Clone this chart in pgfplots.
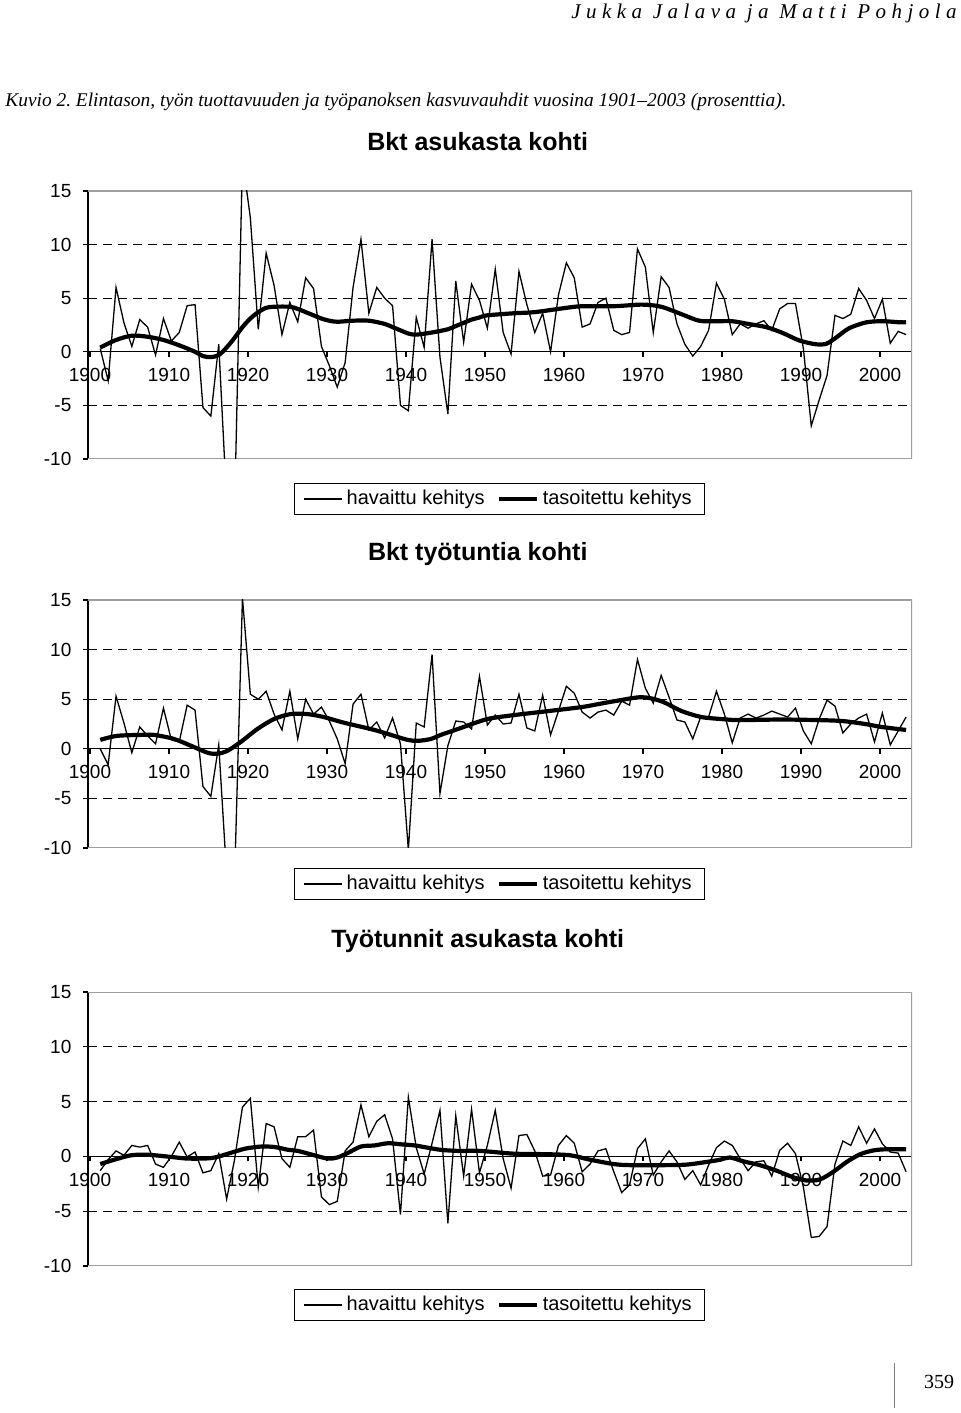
\documentclass[border=0pt]{standalone}
\usepackage{fontspec}
\setmainfont{Liberation Sans}
\newfontfamily\serifit[LetterSpace=26]{Liberation Serif}
\newfontfamily\serifcap{Liberation Serif}
\usepackage{pgfplots}
\pgfplotsset{compat=1.18}
\usepackage{pgfplotstable}
\frenchspacing

% observed growth rates: a = Bkt asukasta kohti, b = Bkt tyotuntia kohti, c = Tyotunnit asukasta kohti
\pgfplotstableread{
year a b c
1901 0.3 0.0 -1.3
1902 -2.7 -1.6 -0.3
1903 6.0 5.3 0.5
1904 2.7 2.6 0.1
1905 0.5 -0.4 1.0
1906 3.0 2.2 0.85
1907 2.3 1.3 1.0
1908 -0.3 0.5 -0.7
1909 3.1 4.1 -1.0
1910 1.0 0.9 0.0
1911 1.8 0.7 1.3
1912 4.3 4.4 -0.05
1913 4.4 3.9 0.4
1914 -5.2 -3.8 -1.5
1915 -6.0 -4.8 -1.3
1916 0.7 0.4 0.25
1917 -14.0 -12.7 -3.9
1918 -15.0 -13.3 -0.3
1919 18.0 15.2 4.5
1920 12.5 5.5 5.3
1921 2.1 5.0 -2.8
1922 9.2 5.8 3.0
1923 6.2 3.5 2.7
1924 1.6 1.9 -0.2
1925 4.6 5.8 -1.0
1926 2.8 1.0 1.8
1927 6.9 5.0 1.8
1928 5.9 3.5 2.4
1929 0.5 4.2 -3.7
1930 -1.3 2.8 -4.4
1931 -3.3 1.0 -4.1
1932 -1.0 -1.5 0.5
1933 6.0 4.5 1.3
1934 10.5 5.5 4.7
1935 3.6 1.9 1.8
1936 6.0 2.7 3.2
1937 5.0 1.1 3.8
1938 4.3 3.1 1.6
1939 -5.0 0.5 -5.3
1940 -5.5 -10.2 5.4
1941 3.2 2.6 0.8
1942 0.4 2.2 -1.6
1943 10.5 9.5 1.2
1944 -0.5 -4.5 4.2
1945 -5.8 0.3 -6.1
1946 6.6 2.8 3.7
1947 0.9 2.7 -1.8
1948 6.3 2.0 4.3
1949 4.8 7.3 -1.5
1950 2.2 2.4 1.0
1951 7.7 3.4 4.2
1952 1.8 2.5 -0.2
1953 -0.2 2.6 -2.9
1954 7.5 5.5 1.9
1955 4.4 2.1 2.0
1956 1.8 1.8 0.5
1957 3.6 5.4 -1.8
1958 0.0 1.4 -1.7
1959 5.3 3.8 1.0
1960 8.3 6.3 1.9
1961 6.9 5.6 1.2
1962 2.3 3.7 -1.4
1963 2.6 3.1 -0.7
1964 4.6 3.7 0.5
1965 5.0 3.9 0.7
1966 2.0 3.4 -1.4
1967 1.6 4.8 -3.3
1968 1.8 4.4 -2.6
1969 9.6 9.0 0.7
1970 7.9 6.1 1.6
1971 1.8 4.6 -1.7
1972 7.0 7.4 -0.5
1973 6.0 5.2 0.5
1974 2.6 2.9 -0.5
1975 0.7 2.7 -2.1
1976 -0.4 1.0 -1.3
1977 0.5 3.2 -2.6
1978 2.0 3.2 -0.8
1979 6.4 5.8 0.8
1980 4.9 3.5 1.4
1981 1.6 0.6 1.0
1982 2.6 3.1 -0.2
1983 2.2 3.5 -1.3
1984 2.6 3.1 -0.5
1985 2.9 3.4 -0.4
1986 2.0 3.8 -1.8
1987 4.0 3.5 0.55
1988 4.5 3.2 1.2
1989 4.5 4.1 0.25
1990 0.3 1.8 -2.8
1991 -6.9 0.5 -7.4
1992 -4.5 3.0 -7.3
1993 -2.2 4.9 -6.4
1994 3.4 4.3 -0.7
1995 3.1 1.6 1.4
1996 3.5 2.5 1.0
1997 5.9 3.1 2.7
1998 4.8 3.5 1.2
1999 3.1 0.7 2.5
2000 4.9 3.6 1.15
2001 0.8 0.4 0.4
2002 1.9 1.8 0.3
2003 1.6 3.2 -1.4
}\obs

% smoothed trends
\pgfplotstableread{
year v
1901 0.4
1903 1.1
1905 1.5
1907 1.4
1909 1.1
1911 0.6
1913 0.0
1914 -0.4
1915 -0.5
1916 -0.3
1917 0.4
1918 1.3
1919 2.3
1920 3.1
1921 3.7
1922 4.1
1923 4.2
1925 4.2
1926 4.0
1927 3.7
1928 3.4
1929 3.1
1930 2.9
1931 2.8
1933 2.9
1935 2.9
1937 2.6
1938 2.3
1939 2.0
1940 1.7
1941 1.6
1943 1.8
1945 2.1
1946 2.4
1947 2.7
1948 3.0
1949 3.2
1950 3.4
1953.5 3.6
1956 3.7
1960 4.1
1962 4.25
1966 4.25
1969.6 4.4
1972 4.2
1974.6 3.5
1976.8 2.9
1979 2.85
1981 2.85
1983 2.6
1985.3 2.3
1987.4 1.75
1989.5 1.05
1991.6 0.7
1992.9 0.75
1994.1 1.3
1995.8 2.2
1998 2.75
2000.1 2.85
2002.2 2.75
2003 2.75
}\smA

\pgfplotstableread{
year v
1901 0.9
1903.1 1.3
1906.1 1.4
1907.8 1.4
1910.3 1.0
1912.5 0.3
1914.6 -0.4
1915.8 -0.5
1917.1 -0.2
1918.8 0.7
1920.9 2.0
1923 3.0
1925.1 3.5
1927.2 3.5
1929.3 3.2
1931.5 2.7
1933.6 2.3
1935.7 1.9
1937.8 1.4
1939.9 0.9
1941.2 0.8
1942.9 1.0
1944.1 1.4
1946.3 2.0
1948.4 2.6
1950.3 3.05
1953.4 3.4
1957.7 3.8
1961.9 4.2
1964.0 4.5
1966.1 4.8
1969.5 5.2
1972.0 4.8
1974.6 3.8
1977.1 3.2
1979.6 3.0
1981.3 2.9
1983.0 2.9
1987.2 2.95
1991.5 2.9
1994.9 2.8
1997.8 2.5
1999.9 2.2
2003 1.9
}\smB

\pgfplotstableread{
year v
1901 -0.7
1902.8 -0.3
1904.9 0.1
1907.0 0.15
1910.0 -0.05
1912.1 -0.2
1915.1 -0.15
1917.2 0.25
1919.3 0.7
1921.4 0.9
1923.1 0.85
1924.8 0.6
1926.0 0.5
1928.1 0.1
1929.8 -0.2
1931.0 -0.1
1932.3 0.3
1934.0 0.9
1935.7 1.0
1937.4 1.2
1939.1 1.1
1940.8 1.0
1942.4 0.8
1944.1 0.6
1946.3 0.5
1949.1 0.5
1953.3 0.25
1957.5 0.2
1960.5 0.1
1963.0 -0.3
1966.0 -0.7
1968.1 -0.8
1972.3 -0.8
1975.2 -0.75
1977.8 -0.5
1979.5 -0.3
1980.7 -0.1
1982.4 -0.45
1984.5 -0.8
1986.6 -1.3
1988.7 -1.9
1990.4 -2.2
1992.1 -2.1
1993.8 -1.4
1995.5 -0.5
1997.2 0.2
1998.9 0.55
2000.5 0.65
2003 0.65
}\smC

\pgfplotsset{
  panel/.style={
    scale only axis, width=412pt,
    xmin=1899.45, xmax=2003.75, ymin=-10, ymax=15,
    axis x line*=middle, axis y line*=left,
    axis line style={black, line width=0.6pt},
    xtick={1899.7,1909.7,...,1999.7},
    xticklabels={1900,1910,1920,1930,1940,1950,1960,1970,1980,1990,2000},
    ytick={-10,-5,0,5,10,15},
    yticklabels={-10,-5,0,5,10,15},
    tick align=outside, major tick length=2.5pt,
    tick style={black, line width=0.6pt},
    x tick label style={font=\fontsize{9.5}{11}\selectfont, yshift=-2.2pt},
    y tick label style={font=\fontsize{9.5}{11}\selectfont, xshift=-2.3pt},
    extra y ticks={-5,5,10},
    extra y tick labels={},
    extra y tick style={grid=major, major tick length=0pt,
      major grid style={black, line width=0.6pt, dash pattern=on 4.5pt off 3pt}},
    title style={font=\bfseries\fontsize{12.5}{14}\selectfont, at={(0.473,1)}, anchor=center},
    legend columns=2,
    legend cell align=left,
    legend image code/.code={\draw[##1] (0pt,0pt) -- (19pt,0pt);},
    legend style={at={(0.4995,0)}, anchor=center, draw=black, line width=0.6pt,
      font=\fontsize{10}{12}\selectfont, inner xsep=4.5pt, inner ysep=1.5pt,
      /tikz/every even column/.append style={column sep=4pt}},
  },
  obsline/.style={black, line width=0.65pt, line join=miter},
  smline/.style={black, line width=2.1pt, smooth, tension=0.5},
}

\begin{document}
\begin{tikzpicture}
\useasboundingbox (0pt,0pt) rectangle (480pt,706.5pt);

\node[anchor=base east, inner sep=0pt, font=\serifit\itshape\fontsize{10.5}{12}\selectfont] at (478.5pt,697pt) {Jukka Jalava ja Matti Pohjola};
\node[anchor=base west, inner sep=0pt, font=\serifcap\itshape\fontsize{9.7}{12}\selectfont] at (2.5pt,653pt) {Kuvio 2. Elintason, työn tuottavuuden ja työpanoksen kasvuvauhdit vuosina 1901–2003 (prosenttia).};

% panel 1
\begin{axis}[panel, at={(44pt,477pt)}, anchor=south west, height=134pt,
  title={Bkt asukasta kohti}, title style={yshift=18.5pt},
  legend style={yshift=-20pt}]
\draw[gray!75, line width=0.6pt] (rel axis cs:0,1) -- (rel axis cs:1,1) -- (rel axis cs:1,0) -- (rel axis cs:0,0);
\addplot[obsline] table[x=year, y=a] {\obs};
\addlegendentry{havaittu kehitys}
\addplot[smline] table[x=year, y=v] {\smA};
\addlegendentry{tasoitettu kehitys}
\end{axis}

% panel 2
\begin{axis}[panel, at={(44pt,282.5pt)}, anchor=south west, height=124pt,
  title={Bkt työtuntia kohti}, title style={yshift=17pt},
  legend style={yshift=-18pt}]
\draw[gray!75, line width=0.6pt] (rel axis cs:0,1) -- (rel axis cs:1,1) -- (rel axis cs:1,0) -- (rel axis cs:0,0);
\addplot[obsline] table[x=year, y=b] {\obs};
\addlegendentry{havaittu kehitys}
\addplot[smline] table[x=year, y=v] {\smB};
\addlegendentry{tasoitettu kehitys}
\end{axis}

% panel 3
\begin{axis}[panel, at={(44pt,73.5pt)}, anchor=south west, height=137pt,
  title={Työtunnit asukasta kohti}, title style={yshift=19.5pt},
  legend style={yshift=-19.5pt}]
\draw[gray!75, line width=0.6pt] (rel axis cs:0,1) -- (rel axis cs:1,1) -- (rel axis cs:1,0) -- (rel axis cs:0,0);
\addplot[obsline] table[x=year, y=c] {\obs};
\addlegendentry{havaittu kehitys}
\addplot[smline] table[x=year, y=v] {\smC};
\addlegendentry{tasoitettu kehitys}
\end{axis}

\draw[gray, line width=0.5pt] (447pt,25pt) -- (447pt,2.5pt);
\node[anchor=base, inner sep=0pt, font=\serifcap\fontsize{10}{12}\selectfont] at (469.5pt,12.5pt) {359};
\end{tikzpicture}
\end{document}
